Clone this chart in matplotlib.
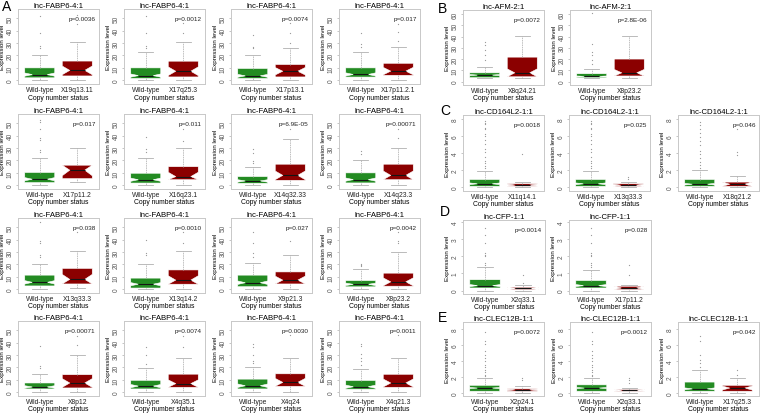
import matplotlib
matplotlib.use("Agg")
import matplotlib.pyplot as plt

plt.rcParams['font.family'] = ['Liberation Sans', 'DejaVu Sans']

# ---------------- data ----------------
groups = ["Wild-type"]

# Panel A: lnc-FABP6-4:1
a_title = "lnc-FABP6-4:1"
a_cnv = ["X19q13.11", "X17q25.3", "X17p13.1", "X17p11.2.1",
         "X17p11.2", "X16q23.1", "X14q32.33", "X14q23.3",
         "X13q33.3", "X13q14.2", "X9p21.3", "X8p23.2",
         "X8p12", "X4q35.1", "X4q24", "X4q21.3"]
a_pval = ["p=0.0036", "p=0.0012", "p=0.0074", "p=0.017",
          "p=0.017", "p=0.011", "p=6.9E-05", "p=0.00071",
          "p=0.038", "p=0.0010", "p=0.027", "p=0.0042",
          "p=0.00071", "p=0.0074", "p=0.0030", "p=0.0011"]
# [whisker low, q1, median, q3, whisker high]
a_wt_box = [[0, 2.0, 4.6, 10.0, 20], [0, 1.5, 3.8, 10.0, 22.5], [0, 1.5, 3.6, 9.5, 20], [0, 2.6, 4.7, 10.0, 23],
            [0, 2.2, 4.9, 10.3, 22], [0, 1.8, 4.5, 9.7, 22], [0, 1.6, 3.5, 7.0, 14.5], [0, 1.9, 4.6, 10.0, 20.5],
            [0, 2.7, 5.6, 11.4, 20], [0, 1.0, 4.1, 9.0, 20], [0, 2.1, 5.3, 11.4, 21.3], [0, 2.0, 4.0, 7.0, 16],
            [0, 2.7, 4.3, 7.5, 15], [0, 2.7, 5.0, 9.6, 19.4], [0, 2.7, 5.3, 10.6, 20], [0, 2.5, 4.5, 9.5, 19]]
a_wt_notch = [1.3, 1.3, 1.2, 1.3, 1.3, 1.3, 1.0, 1.3, 1.4, 1.3, 1.4, 1.0, 1.0, 1.3, 1.4, 1.3]
a_wt_out = [[26, 28, 38, 52], [26, 28, 38, 52], [26, 27, 36.5], [27, 29, 38],
            [27, 28.4, 36.5, 38, 45, 51, 53], [27, 29.5, 38.7], [18.3, 19.6, 26, 29.5], [25, 28],
            [26, 27.6, 37, 38.8, 54], [27.3, 29, 39.6], [26, 29.3, 37.2, 46], [19, 19.8, 20.6],
            [19.6, 21, 37], [23, 30, 36.7], [23.4, 25.5, 30, 36.7, 38.6], [22, 25, 28, 31, 37, 39]]
a_mut_box = [[0.5, 3.5, 8.0, 15.5, 30.5], [0.5, 2.7, 7.3, 15.4, 31], [0.5, 2.7, 7.3, 12.7, 26], [0.5, 4.0, 7.4, 13.7, 27],
             [2.7, 5.4, 12.2, 16.2, 30], [0.5, 4.5, 7.0, 15.0, 30], [0.5, 4.0, 8.0, 17.0, 37], [0.5, 4.5, 8.0, 17.0, 30],
             [1.0, 4.3, 8.0, 16.8, 31], [0.5, 4.1, 7.4, 15.6, 31], [0.5, 4.3, 7.4, 14.0, 28], [0, 2.5, 6.0, 13.0, 30],
             [0, 3.5, 7.5, 14.2, 30.4], [0, 4.0, 7.0, 14.6, 27.4], [0.5, 4.8, 8.0, 14.9, 28], [0, 4.0, 7.5, 14.5, 28]]
a_mut_notch = [3.5, 3.5, 3.0, 3.0, 4.5, 3.5, 3.5, 3.5, 4.0, 3.5, 3.2, 3.2, 3.5, 3.0, 3.2, 3.2]
a_mut_out = [[45, 53], [38, 46], [30, 38, 46], [31.6, 38.7, 45],
             [], [36, 45], [45], [38, 45],
             [46], [37.4, 46.4], [38.8], [37, 39, 46],
             [38.4, 45.7], [36.7, 45], [46], [46]]

# Panel B: lnc-AFM-2:1
b_title = "lnc-AFM-2:1"
b_cnv = ["X8q24.21", "X8p23.2"]
b_pval = ["p=0.0072", "p=2.8E-06"]
b_wt_box = [[3.0, 3.5, 5.8, 7.8, 12.8], [3.0, 3.5, 4.6, 7.0, 11.3]]
b_wt_notch = [0.5, 0.4]
b_wt_out = [[19.4, 23.8, 28, 32.5, 35.4], [15.6, 19.4, 23.8, 26.7, 33, 61]]
b_mut_box = [[3.5, 4.3, 7.8, 21.7, 40.6], [3.5, 5.0, 7.8, 20.0, 40.6]]
b_mut_notch = [3.5, 3.0]
b_mut_out = [[], []]

# Panel C: lnc-CD164L2-1:1
c_title = "lnc-CD164L2-1:1"
c_cnv = ["X11q14.1", "X13q33.3", "X18q21.2"]
c_pval = ["p=0.0018", "p=0.025", "p=0.046"]
c_wt_box = [[0, 0.1, 0.4, 0.9, 1.95], [0, 0.1, 0.4, 0.9, 1.95], [0, 0.1, 0.35, 0.9, 2.05]]
c_wt_notch = [0.1, 0.1, 0.1]
c_wt_out = [[2.2, 2.5, 2.8, 3.1, 3.5, 4.1, 4.5, 5.1, 5.5, 6.05, 6.3, 6.8, 7.0, 7.4, 7.6, 7.8],
            [2.2, 2.5, 2.8, 3.1, 3.5, 4.1, 4.5, 5.1, 5.5, 6.05, 6.3, 6.8, 7.0, 7.4, 7.6, 7.8],
            [2.3, 2.6, 3.0, 3.4, 3.9, 4.3, 5.0, 5.4, 5.9, 6.4, 6.9, 7.3, 7.7]]
c_mut_box = [[0, 0.12, 0.25, 0.4, 0.65], [0, 0.1, 0.23, 0.4, 0.65], [0, 0.1, 0.35, 0.6, 1.3]]
c_mut_notch = [0.12, 0.12, 0.25]
c_mut_out = [[3.9], [1.0, 1.2], [3.8, 4.1, 6.9]]

# Panel D: lnc-CFP-1:1
d_title = "lnc-CFP-1:1"
d_cnv = ["X2q33.1", "X17p11.2"]
d_pval = ["p=0.0014", "p=0.028"]
d_wt_box = [[0, 0.15, 0.29, 0.63, 1.35], [0, 0.15, 0.29, 0.58, 1.2]]
d_wt_notch = [0.06, 0.06]
d_wt_out = [[1.5, 1.6, 1.98, 2.08, 2.17, 2.75, 3.23, 3.65],
            [1.35, 1.5, 1.6, 1.98, 2.08, 2.17, 2.75, 3.23, 3.65]]
d_mut_box = [[0, 0.06, 0.12, 0.19, 0.3], [0, 0.06, 0.15, 0.25, 0.35]]
d_mut_notch = [0.05, 0.1]
d_mut_out = [[0.44, 0.92], [0.92, 1.5]]

# Panel E: lnc-CLEC12B-1:1
e_title = "lnc-CLEC12B-1:1"
e_cnv = ["X2p24.1", "X2q33.1", "X17q25.3"]
e_pval = ["p=0.0072", "p=0.0012", "p=0.042"]
e_wt_box = [[0, 0.2, 0.6, 0.94, 1.9], [0, 0.2, 0.6, 1.0, 1.9], [0, 0.2, 0.5, 1.35, 2.9]]
e_wt_notch = [0.07, 0.07, 0.12]
e_wt_out = [[2.1, 2.3, 2.6, 2.9, 3.2, 3.5, 4.0, 4.4, 4.8, 5.3, 6.1, 6.5, 7.7],
            [2.1, 2.3, 2.6, 2.9, 3.2, 3.5, 4.0, 4.4, 4.8, 5.3, 6.1, 6.5, 7.7],
            [3.3, 3.7, 4.1, 4.7, 6.5, 7.2]]
e_mut_box = [[0, 0.2, 0.37, 0.5, 0.85], [0, 0.2, 0.3, 0.4, 0.6], [0, 0.2, 0.6, 0.94, 1.9]]
e_mut_notch = [0.1, 0.08, 0.25]
e_mut_out = [[1.6, 1.9], [1.2, 1.6, 1.8], [2.25, 2.9]]

# ---------------- drawing ----------------
W, H = 763, 414
fig = plt.figure(figsize=(W / 100, H / 100), dpi=100)

GREEN = '#238b22'
RED = '#8b0000'
GRID = '#c8c8c8'


def make_stats(box, notch, out, label):
    lo, q1, med, q3, hi = box
    return dict(whislo=lo, q1=q1, med=med, q3=q3, whishi=hi,
                cilo=max(q1, med - notch), cihi=min(q3, med + notch),
                fliers=out, label=label)


def add_axes(left, top, width, height):
    return fig.add_axes([left / W, 1 - (top + height) / H, width / W, height / H])


def draw_panel(ax, title, cnv, pval, wb, wn, wo, mb, mn, mo, ylim, yticks):
    stats = [make_stats(wb, wn, wo, groups[0]), make_stats(mb, mn, mo, cnv)]
    res = ax.bxp(stats, positions=[1, 2], widths=0.8, shownotches=True,
                 patch_artist=True, showfliers=True,
                 boxprops=dict(linewidth=0.4, edgecolor='white'),
                 whiskerprops=dict(color='#b0b0b0', linewidth=0.55, linestyle=(0, (2, 1))),
                 capprops=dict(color='#b0b0b0', linewidth=0.6),
                 medianprops=dict(color='#151515', linewidth=0.8),
                 flierprops=dict(marker='.', markersize=1.8, markerfacecolor='#999999',
                                 markeredgecolor='none', linestyle='none'))
    res['boxes'][0].set_facecolor(GREEN)
    res['boxes'][1].set_facecolor(RED)
    ax.set_xlim(0.42, 2.58)
    ax.set_ylim(*ylim)
    ax.set_yticks(yticks)
    ax.set_yticklabels([str(t) for t in yticks], rotation=90, va='center',
                       fontsize=4.7, color='#555555')
    ax.tick_params(axis='y', length=1.8, width=0.4, color='#999999', pad=1.2)
    ax.tick_params(axis='x', length=0, labelsize=4.9, pad=1.2, labelcolor='#222222')
    for s in ax.spines.values():
        s.set_color(GRID)
        s.set_linewidth(0.7)
    ax.set_title(title, fontsize=5.6, pad=1.5)
    ax.set_ylabel("Expression level", fontsize=4.5, labelpad=1)
    ax.set_xlabel("Copy number status", fontsize=4.9, labelpad=0.6)
    ax.text(0.96, 0.87, pval, transform=ax.transAxes, ha='right', va='center',
            fontsize=4.6, color='#222222')


# Panel A: 4x4 grid
a_lefts = [18, 124, 231, 339]
a_tops = [10, 115, 219, 322]
for i in range(16):
    r, c = divmod(i, 4)
    ax = add_axes(a_lefts[c], a_tops[r], 81, 75)
    draw_panel(ax, a_title, a_cnv[i], a_pval[i], a_wt_box[i], a_wt_notch[i], a_wt_out[i],
               a_mut_box[i], a_mut_notch[i], a_mut_out[i], (-3, 57.5), [0, 10, 20, 30, 40, 50])

# Panel B
b_lefts = [463, 570]
for i in range(2):
    ax = add_axes(b_lefts[i], 11, 81, 75)
    draw_panel(ax, b_title, b_cnv[i], b_pval[i], b_wt_box[i], b_wt_notch[i], b_wt_out[i],
               b_mut_box[i], b_mut_notch[i], b_mut_out[i], (-3, 63.5), [0, 10, 20, 30, 40, 50, 60])

# Panel C
c_lefts = [463, 569, 678]
for i in range(3):
    ax = add_axes(c_lefts[i], 116, 81, 76)
    draw_panel(ax, c_title, c_cnv[i], c_pval[i], c_wt_box[i], c_wt_notch[i], c_wt_out[i],
               c_mut_box[i], c_mut_notch[i], c_mut_out[i], (-0.45, 8.5), [0, 2, 4, 6, 8])

# Panel D
d_lefts = [463, 569]
for i in range(2):
    ax = add_axes(d_lefts[i], 221, 82, 74)
    draw_panel(ax, d_title, d_cnv[i], d_pval[i], d_wt_box[i], d_wt_notch[i], d_wt_out[i],
               d_mut_box[i], d_mut_notch[i], d_mut_out[i], (-0.2, 4.1), [0, 1, 2, 3, 4])

# Panel E
e_lefts = [463, 570, 678]
for i in range(3):
    ax = add_axes(e_lefts[i], 323, 81, 74)
    draw_panel(ax, e_title, e_cnv[i], e_pval[i], e_wt_box[i], e_wt_notch[i], e_wt_out[i],
               e_mut_box[i], e_mut_notch[i], e_mut_out[i], (-0.4, 8.9), [0, 2, 4, 6, 8])

# Section letters
for letter, x, y in [("A", 2, 7), ("B", 438, 9), ("C", 440, 111), ("D", 440, 212), ("E", 438, 318)]:
    fig.text(x / W, 1 - y / H, letter, fontsize=10, ha='left', va='center')

fig.savefig("out.png", dpi=100)
